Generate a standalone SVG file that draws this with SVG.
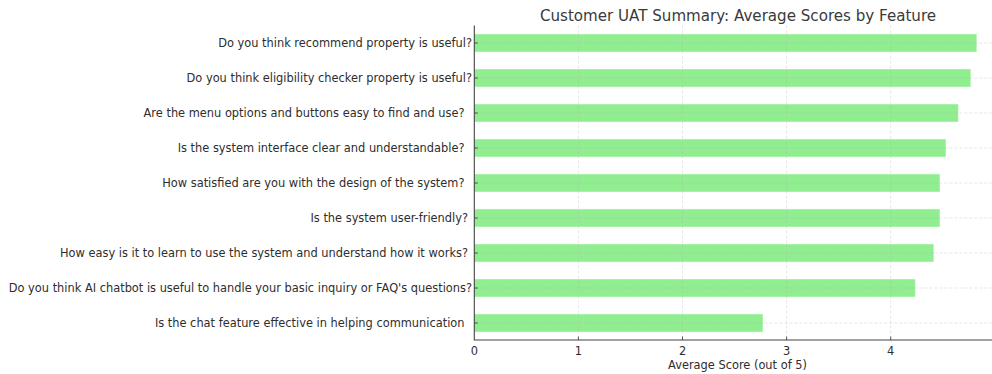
<svg xmlns="http://www.w3.org/2000/svg" width="992" height="374" viewBox="0 0 992 374">
  <style>
    text { font-family: "DejaVu Sans", Verdana, sans-serif; fill: #2e2e2e; }
    .title { font-size: 15.1px; text-anchor: middle; fill: #3a3a3a; }
    .ylab { font-size: 11.4px; text-anchor: end; }
    .xlab { font-size: 11.4px; text-anchor: middle; }
    .bar { fill: #90ee90; stroke: #a8f2a8; stroke-width: 0.6; }
    .grid { stroke: #b0b0b0; stroke-opacity: 0.4; stroke-width: 0.8; stroke-dasharray: 3 2; fill: none; }
    .spine { stroke: #444444; stroke-width: 1.1; fill: none; }
    .tick { stroke: #444444; stroke-width: 0.9; }
  </style>

  <rect width="992" height="374" fill="#ffffff"/>

  <text class="title" x="738" y="20.5">Customer UAT Summary: Average Scores by Feature</text>

  <!-- bars: 0 at x=474.3, 104.1 px per score unit, rows 35 px apart -->
  <g id="bars">
    <g id="row1"><rect class="bar" x="474.3" y="34.25" width="502" height="17.5"/><text class="ylab" x="472" y="47.1">Do you think recommend property is useful?</text></g>
    <g id="row2"><rect class="bar" x="474.3" y="69.25" width="496" height="17.5"/><text class="ylab" x="472" y="82.1">Do you think eligibility checker property is useful?</text></g>
    <g id="row3"><rect class="bar" x="474.3" y="104.25" width="483.7" height="17.5"/><text class="ylab" x="464.5" y="117.1">Are the menu options and buttons easy to find and use?</text></g>
    <g id="row4"><rect class="bar" x="474.3" y="139.25" width="471.4" height="17.5"/><text class="ylab" x="464.5" y="152.1">Is the system interface clear and understandable?</text></g>
    <g id="row5"><rect class="bar" x="474.3" y="174.25" width="465.4" height="17.5"/><text class="ylab" x="464.5" y="187.1">How satisfied are you with the design of the system?</text></g>
    <g id="row6"><rect class="bar" x="474.3" y="209.25" width="465.4" height="17.5"/><text class="ylab" x="468" y="222.1">Is the system user-friendly?</text></g>
    <g id="row7"><rect class="bar" x="474.3" y="244.25" width="459" height="17.5"/><text class="ylab" x="468" y="257.1">How easy is it to learn to use the system and understand how it works?</text></g>
    <g id="row8"><rect class="bar" x="474.3" y="279.25" width="440.7" height="17.5"/><text class="ylab" x="472" y="292.1">Do you think AI chatbot is useful to handle your basic inquiry or FAQ's questions?</text></g>
    <g id="row9"><rect class="bar" x="474.3" y="314.25" width="288.4" height="17.5"/><text class="ylab" x="464.5" y="327.1">Is the chat feature effective in helping communication</text></g>
  </g>

  <!-- grid drawn over the bars, faint -->
  <g id="grid">
    <path class="grid" d="M578.4 25.5V340M682.5 25.5V340M786.6 25.5V340M890.7 25.5V340"/>
    <path class="grid" d="M474.3 43H992M474.3 78H992M474.3 113H992M474.3 148H992M474.3 183H992M474.3 218H992M474.3 253H992M474.3 288H992M474.3 323H992"/>
  </g>

  <!-- axes -->
  <g id="axes">
    <path class="spine" d="M474.3 25.5V340H992"/>
    <path class="tick" d="M474.3 43h3.5M474.3 78h3.5M474.3 113h3.5M474.3 148h3.5M474.3 183h3.5M474.3 218h3.5M474.3 253h3.5M474.3 288h3.5M474.3 323h3.5"/>
    <path class="tick" d="M578.4 340v-3.5M682.5 340v-3.5M786.6 340v-3.5M890.7 340v-3.5"/>
    <text class="xlab" x="474.3" y="354.5">0</text>
    <text class="xlab" x="578.4" y="354.5">1</text>
    <text class="xlab" x="682.5" y="354.5">2</text>
    <text class="xlab" x="786.6" y="354.5">3</text>
    <text class="xlab" x="890.7" y="354.5">4</text>
    <text class="xlab" x="994.8" y="354.5">5</text>
    <text class="xlab" x="737.5" y="368.5">Average Score (out of 5)</text>
  </g>
</svg>
